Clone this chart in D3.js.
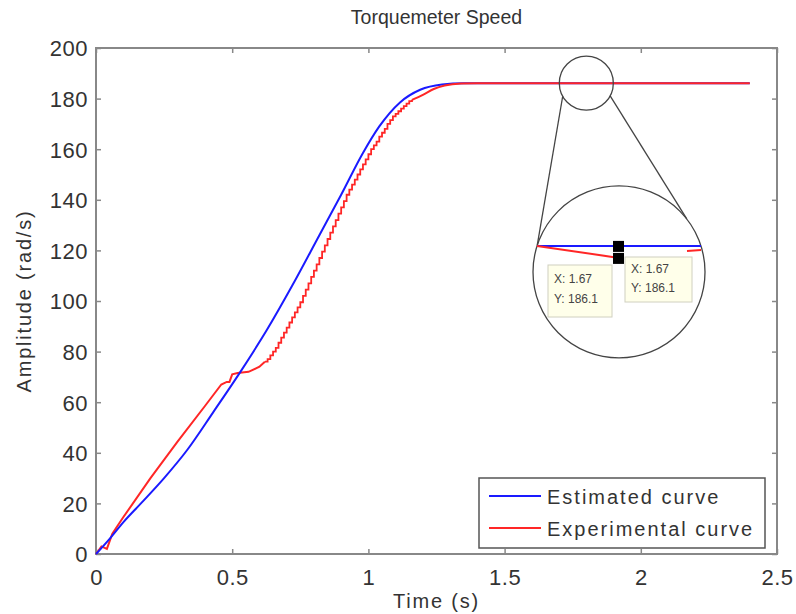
<!DOCTYPE html>
<html lang="en">
<head>
<meta charset="utf-8">
<title>Torquemeter Speed</title>
<script src="https://d3js.org/d3.v7.min.js"></script>
<style>
    body { margin: 0; background: #fff; font-family: 'Liberation Sans', Arial, sans-serif; }
    svg { display: block; }
    text { fill: #333; }
    .tick line { stroke: #888; stroke-width: 1.5; }
    .domain { display: none; }
    .tick text { font-size: 22px; fill: #333; letter-spacing: 0.5px; }
    .title { font-size: 19.5px; }
    .label { font-size: 20px; letter-spacing: 1.8px; }
    .legend text { font-size: 20px; letter-spacing: 2px; }
    .tip text { font-size: 12px; fill: #444; }
</style>
</head>
<body>
<svg width="796" height="614"></svg>
<script>
// estimated model response (t in s, amplitude in rad/s)
const estTime = [0, 0.05, 0.1, 0.165, 0.25, 0.334, 0.43, 0.53, 0.627, 0.72, 0.82, 0.9, 0.98, 1.04, 1.116, 1.19, 1.27, 1.35, 2.4];
const estValue = [0, 6, 12.5, 20, 30, 41, 56, 72, 88.5, 106, 126, 142, 158.5, 169, 178.5, 183.5, 185.6, 186.1, 186.1];

// measured response, first smooth part
const expTime = [0, 0.02, 0.04, 0.06, 0.1, 0.2, 0.3, 0.4, 0.46, 0.48, 0.49, 0.5, 0.52, 0.56, 0.6, 0.62];
const expValue = [0, 3, 2, 8, 14.5, 30, 44.5, 58.5, 67, 68, 68, 71, 71.5, 72, 74, 76];
// measured response, quantised (stair) part
const stairTime = [0.62, 0.63, 0.64, 0.65, 0.66, 0.67, 0.68, 0.69, 0.70, 0.71, 0.72, 0.73, 0.74, 0.75, 0.76, 0.77, 0.78, 0.79,
    0.80, 0.81, 0.82, 0.83, 0.84, 0.85, 0.86, 0.87, 0.88, 0.89, 0.90, 0.91, 0.92, 0.93, 0.94, 0.95, 0.96, 0.97, 0.98, 0.99,
    1.00, 1.01, 1.02, 1.03, 1.04, 1.05, 1.06, 1.07, 1.08, 1.09, 1.10, 1.11, 1.12, 1.13, 1.14, 1.15, 1.16];
const stairValue = [76, 77, 78.5, 80, 81.5, 83.5, 85.5, 87.5, 89.5, 91.5, 93.5, 95.5, 97.5, 99.5, 102, 104.5, 107, 109.5,
    112, 114.5, 117, 119.5, 122, 124.5, 127, 129.5, 132, 134.5, 137, 139.5, 142, 144, 146, 148, 150, 152, 154, 156,
    158, 160, 161.5, 163, 165, 166.5, 168, 170, 171.5, 173, 174, 175, 176, 177, 178, 179, 179.5];
// measured response, settling tail
const tailTime = [1.16, 1.20, 1.24, 1.28, 1.34, 1.40, 2.4];
const tailValue = [179.5, 181.5, 183.8, 185.2, 186, 186.1, 186.1];

const xTicks = [0, 0.5, 1, 1.5, 2, 2.5];
const yTicks = [0, 20, 40, 60, 80, 100, 120, 140, 160, 180, 200];
const seriesNames = ['Estimated curve', 'Experimental curve'];
const seriesColors = ['#1a1aff', '#ff2626'];

// data tip readings shown in the zoom inset
const tipX = [1.67, 1.67];
const tipY = [186.1, 186.1];

const svg = d3.select('svg');
const L = 96, R = 777, T = 48, B = 554;

const x = d3.scaleLinear().domain([0, 2.5]).range([L, R]);
const y = d3.scaleLinear().domain([0, 200]).range([B, T]);

// axes with inward ticks on all four sides
svg.append('g').attr('class', 'xaxis').attr('transform', `translate(0,${B})`)
    .call(d3.axisBottom(x).tickValues(xTicks).tickSize(-5).tickPadding(11)
        .tickFormat(d => d3.format('')(d)));
svg.append('g').attr('transform', `translate(0,${T})`)
    .call(d3.axisTop(x).tickValues(xTicks).tickSize(-5).tickFormat(''));
svg.append('g').attr('class', 'yaxis').attr('transform', `translate(${L},0)`)
    .call(d3.axisLeft(y).tickValues(yTicks).tickSize(-5).tickPadding(8));
svg.append('g').attr('transform', `translate(${R},0)`)
    .call(d3.axisRight(y).tickValues(yTicks).tickSize(-5).tickFormat(''));

svg.selectAll('.xaxis .tick text').attr('dy', '0.9em');
svg.selectAll('.yaxis .tick text').attr('dy', '0.36em');

svg.append('rect')
    .attr('x', L).attr('y', T).attr('width', R - L).attr('height', B - T)
    .attr('fill', 'none').attr('stroke', '#888').attr('stroke-width', 2);

// curves
const line = d3.line().x(d => x(d[0])).y(d => y(d[1]));
const smooth = d3.line().x(d => x(d[0])).y(d => y(d[1])).curve(d3.curveMonotoneX);
const stair = d3.line().x(d => x(d[0])).y(d => y(d[1])).curve(d3.curveStepAfter);
const pairs = (ts, vs) => ts.map((t, i) => [t, vs[i]]);

svg.append('path')
    .datum(pairs(expTime, expValue))
    .attr('d', line).attr('fill', 'none')
    .attr('stroke', seriesColors[1]).attr('stroke-width', 2);
svg.append('path')
    .datum(pairs(stairTime, stairValue))
    .attr('d', stair).attr('fill', 'none')
    .attr('stroke', seriesColors[1]).attr('stroke-width', 1.8);
svg.append('path')
    .datum(pairs(estTime, estValue))
    .attr('d', smooth).attr('fill', 'none')
    .attr('stroke', seriesColors[0]).attr('stroke-width', 2);
// the experimental tail is drawn on top
svg.append('path')
    .datum(pairs(tailTime, tailValue))
    .attr('d', smooth).attr('fill', 'none')
    .attr('stroke', seriesColors[1]).attr('stroke-width', 2);

// zoom inset
const small = { cx: x(1.8), cy: y(186.1), r: 27 };
const big = { cx: x(1.92), cy: y(111.5), r: 86 };
const onCircle = (c, deg) => [c.cx + c.r * Math.cos(deg * Math.PI / 180), c.cy + c.r * Math.sin(deg * Math.PI / 180)];

const inset = svg.append('g').attr('stroke', '#444').attr('stroke-width', 1.3).attr('fill', 'none');
[[151, 198], [28, -38]].forEach(([a, b]) => {
    const p = onCircle(small, a), q = onCircle(big, b);
    inset.append('line').attr('x1', p[0]).attr('y1', p[1]).attr('x2', q[0]).attr('y2', q[1]);
});
inset.append('circle').attr('cx', small.cx).attr('cy', small.cy).attr('r', small.r);
inset.append('circle').attr('cx', big.cx).attr('cy', big.cy).attr('r', big.r);

// magnified traces inside the big circle
const chordY = big.cy - 26;
const half = Math.sqrt(big.r * big.r - 26 * 26);
const mx = big.cx;
svg.append('line')
    .attr('x1', big.cx - half).attr('y1', chordY).attr('x2', big.cx + half).attr('y2', chordY)
    .attr('stroke', seriesColors[0]).attr('stroke-width', 2);
svg.append('polyline')
    .attr('points', `${big.cx - half},${chordY} ${mx},${chordY + 12}`)
    .attr('fill', 'none').attr('stroke', seriesColors[1]).attr('stroke-width', 2);
svg.append('polyline')
    .attr('points', `${big.cx + half - 14},${chordY + 5} ${big.cx + half},${chordY + 4}`)
    .attr('fill', 'none').attr('stroke', seriesColors[1]).attr('stroke-width', 2);
svg.append('rect').attr('x', mx - 6).attr('y', chordY - 5).attr('width', 11).attr('height', 11).attr('fill', '#000');
svg.append('rect').attr('x', mx - 6).attr('y', chordY + 7).attr('width', 11).attr('height', 11).attr('fill', '#000');

// data tips
const tips = [
    { x: 548, y: 265, w: 64, h: 52 },
    { x: 625, y: 257, w: 67, h: 45 }
];
tips.forEach((b, i) => {
    const g = svg.append('g').attr('class', 'tip');
    g.append('rect').attr('x', b.x).attr('y', b.y).attr('width', b.w).attr('height', b.h)
        .attr('fill', '#ffffea').attr('stroke', '#d0d0c0').attr('stroke-width', 1);
    g.append('text').attr('x', b.x + 6).attr('y', b.y + (i === 0 ? 18 : 16)).text(`X: ${tipX[i]}`);
    g.append('text').attr('x', b.x + 6).attr('y', b.y + (i === 0 ? 38 : 35)).text(`Y: ${tipY[i]}`);
});

// legend
const lg = svg.append('g').attr('class', 'legend');
lg.append('rect').attr('x', 479).attr('y', 478).attr('width', 286).attr('height', 70)
    .attr('fill', '#fff').attr('stroke', '#555').attr('stroke-width', 1.5);
seriesNames.forEach((name, i) => {
    const yy = 496 + i * 32;
    lg.append('line').attr('x1', 489).attr('x2', 541).attr('y1', yy).attr('y2', yy)
        .attr('stroke', seriesColors[i]).attr('stroke-width', 2);
    lg.append('text').attr('x', 547).attr('y', yy + 8).text(name);
});

// titles
svg.append('text').attr('class', 'title').attr('x', (L + R) / 2).attr('y', 24)
    .attr('text-anchor', 'middle').text('Torquemeter Speed');
svg.append('text').attr('class', 'label').attr('x', (L + R) / 2).attr('y', 608)
    .attr('text-anchor', 'middle').text('Time (s)');
svg.append('text').attr('class', 'label')
    .attr('transform', `translate(31,${(T + B) / 2}) rotate(-90)`)
    .attr('text-anchor', 'middle').text('Amplitude (rad/s)');
</script>
</body>
</html>
